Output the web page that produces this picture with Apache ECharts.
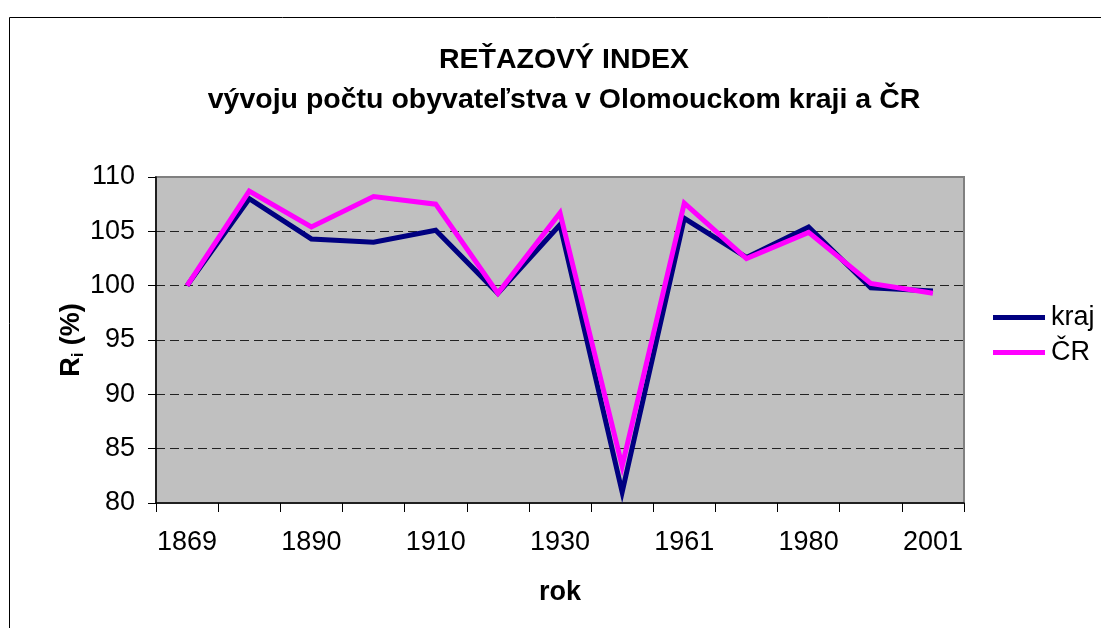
<!DOCTYPE html>
<html>
<head>
<meta charset="utf-8">
<script src="https://cdn.jsdelivr.net/npm/echarts@6/dist/echarts.min.js"></script>
<style>
html,body{margin:0;padding:0;background:#fff;}
#c{width:1101px;height:628px;}
</style>
</head>
<body>
<div id="c"></div>
<script>
var years = ['1869','1880','1890','1900','1910','1921','1930','1950','1961','1970','1980','1991','2001'];
var kraj  = [100, 108.0, 104.3, 104.0, 105.1, 99.3, 105.6, 81.0, 106.2, 102.6, 105.4, 99.8, 99.5];
var cr    = [100, 108.7, 105.4, 108.2, 107.5, 99.3, 106.7, 83.4, 107.6, 102.5, 104.9, 100.2, 99.3];
var yTicks = [80, 85, 90, 95, 100, 105, 110];

var FONT = '"Liberation Sans", Arial, sans-serif';
var chart = echarts.init(document.getElementById('c'));
chart.setOption({
  animation: false,
  backgroundColor: '#ffffff',
  title: {
    text: 'REŤAZOVÝ INDEX\nvývoju počtu obyvateľstva v Olomouckom kraji a ČR',
    left: 559, top: 35, textAlign: 'center',
    textStyle: {fontFamily: FONT, fontSize: 28.5, fontWeight: 'bold', color: '#000', lineHeight: 40}
  },
  graphic: [{
    type: 'rect', left: 7, top: 15, silent: true,
    shape: {width: 1200, height: 700},
    style: {fill: 'none', stroke: '#000', lineWidth: 1}
  }],
  legend: {
    orient: 'vertical', left: 993, top: 304, padding: 0,
    itemWidth: 52, itemHeight: 5, itemGap: 8,
    icon: 'rect',
    textStyle: {fontFamily: FONT, fontSize: 27, color: '#000', padding: [0,0,0,1]},
    data: ['kraj', 'ČR']
  },
  grid: {
    left: 156, top: 177, width: 808, height: 326,
    show: true, backgroundColor: '#C0C0C0', borderColor: '#808080', borderWidth: 2
  },
  xAxis: {
    type: 'category', data: years, boundaryGap: true,
    name: 'rok', nameLocation: 'middle', nameGap: 76,
    nameTextStyle: {fontFamily: FONT, fontSize: 27, fontWeight: 'bold', color: '#000'},
    axisLine: {lineStyle: {color: '#000', width: 1.5}},
    axisTick: {show: true, interval: 0, length: 9, lineStyle: {color: '#000'}},
    axisLabel: {interval: 1, margin: 26, fontFamily: FONT, fontSize: 27, color: '#000'},
    splitLine: {show: false}
  },
  yAxis: {
    type: 'value', min: yTicks[0], max: yTicks[yTicks.length-1], interval: 5,
    name: '{a|R}{b|i}{a| (%)}', nameLocation: 'middle', nameGap: 68, nameRotate: 90,
    nameMoveOverlap: false,
    nameTextStyle: {
      rich: {
        a: {fontFamily: FONT, fontSize: 27, fontWeight: 'bold', color: '#000', lineHeight: 32},
        b: {fontFamily: FONT, fontSize: 17, fontWeight: 'bold', color: '#000', lineHeight: 32, padding: [12,0,0,0]}
      }
    },
    axisLine: {show: true, lineStyle: {color: '#000', width: 1.5}},
    axisTick: {show: true, length: 8, lineStyle: {color: '#000'}},
    axisLabel: {margin: 21, fontFamily: FONT, fontSize: 27, color: '#000'},
    splitLine: {show: true, showMinLine: false, showMaxLine: false, lineStyle: {color: '#222', type: [9,5], width: 1}}
  },
  series: [
    {name: 'kraj', type: 'line', data: kraj, symbol: 'none', color: '#000080',
     lineStyle: {width: 5, color: '#000080', join: 'miter', cap: 'butt'}},
    {name: 'ČR', type: 'line', data: cr, symbol: 'none', color: '#FF00FF',
     lineStyle: {width: 5, color: '#FF00FF', join: 'miter', cap: 'butt'}}
  ]
});
</script>
</body>
</html>
